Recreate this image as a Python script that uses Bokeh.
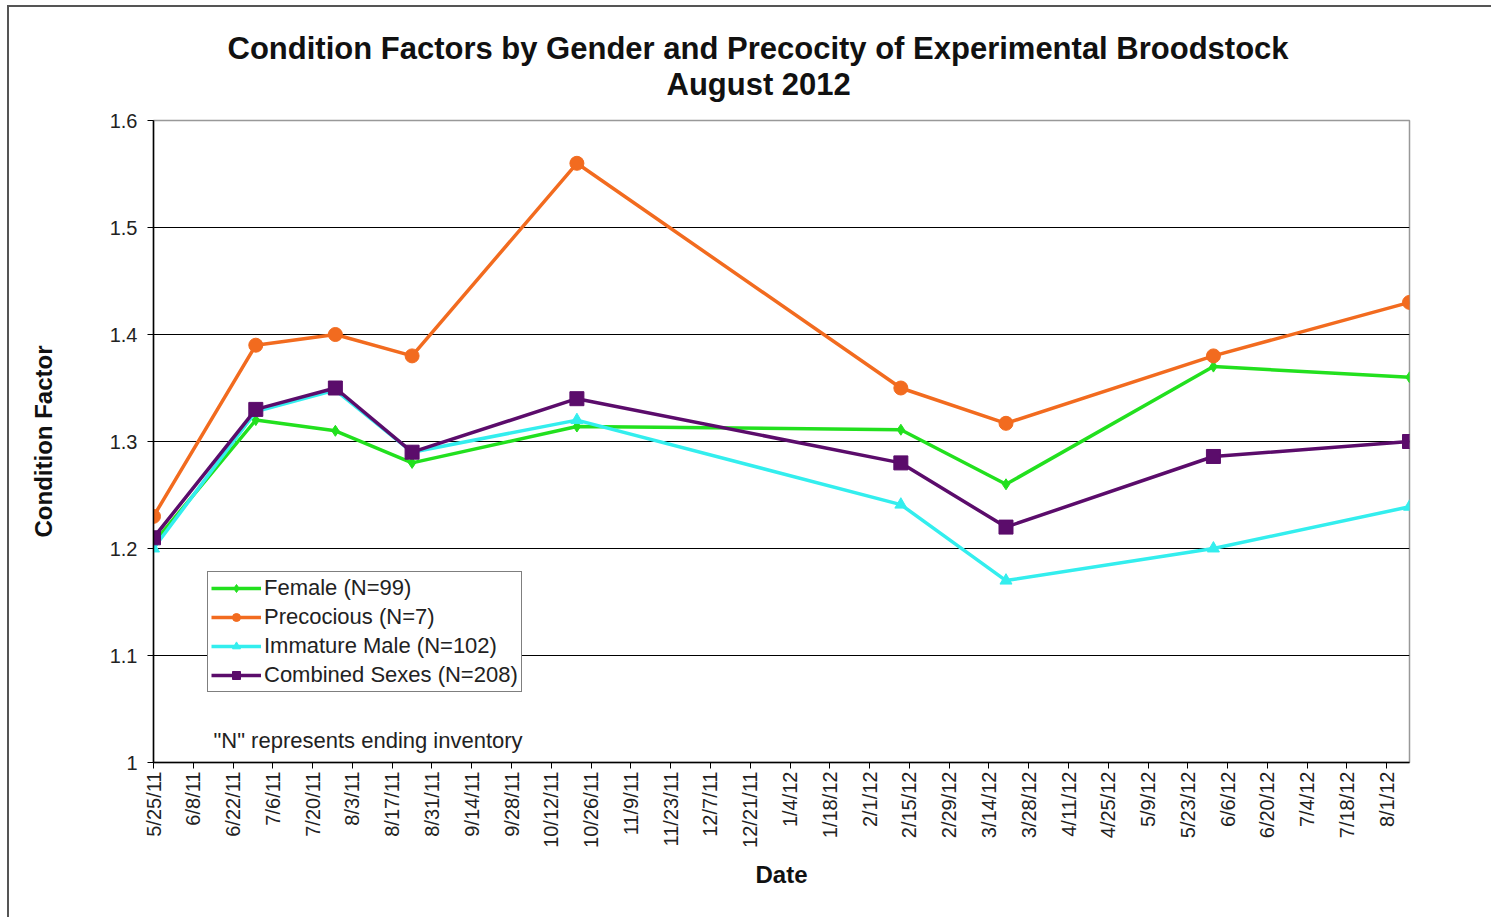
import pandas as pd
from bokeh.plotting import figure
from bokeh.models import (FixedTicker, CustomJSTickFormatter, NumeralTickFormatter,
                          Legend, LegendItem, Label, Range1d, Title)
from bokeh.embed import file_html
from bokeh.resources import INLINE

# ---- data ----
dates = ["2011-05-25", "2011-06-30", "2011-07-28", "2011-08-24", "2011-10-21",
         "2012-02-12", "2012-03-20", "2012-06-01", "2012-08-09"]
female = [1.205, 1.32, 1.31, 1.28, 1.314, 1.311, 1.26, 1.37, 1.36]
precocious = [1.23, 1.39, 1.40, 1.38, 1.56, 1.35, 1.317, 1.38, 1.43]
immature_male = [1.20, 1.328, 1.348, 1.29, 1.32, 1.241, 1.17, 1.20, 1.239]
combined = [1.21, 1.33, 1.35, 1.29, 1.34, 1.28, 1.22, 1.286, 1.30]

series_names = ["Female (N=99)", "Precocious (N=7)", "Immature Male (N=102)", "Combined Sexes (N=208)"]
y_ticks = [1.0, 1.1, 1.2, 1.3, 1.4, 1.5, 1.6]
tick_start = "2011-05-25"
tick_count = 32
tick_step_days = 14

title_line1 = "Condition Factors by Gender and Precocity of Experimental Broodstock"
title_line2 = "August 2012"
note_text = '"N" represents ending inventory'

x = pd.to_datetime(dates)
tick_dates = pd.date_range(tick_start, periods=tick_count, freq=f"{tick_step_days}D")
tick_ms = [int(t.value // 10**6) for t in tick_dates]
x0_ms = int(x[0].value // 10**6)

FONT = "Liberation Sans"
OX, OY = 9, 7          # canvas origin on the page (margin + border)
W, H = 1484, 912
p = figure(width=W, height=H, x_axis_type="datetime", output_backend="svg",
           toolbar_location=None, tools="", title=None,
           x_range=Range1d(x[0], x[-1]), y_range=Range1d(1.0, 1.6),
           min_border_left=153 - OX, min_border_right=OX + W - 1409,
           min_border_top=120 - OY, min_border_bottom=OY + H - 762)

p.styles = {"margin-left": "7px", "margin-top": "5px",
            "border-left": "2px solid #555555", "border-top": "2px solid #555555"}

t2 = Title(text=title_line2, align="left", offset=666 - 153, text_font=FONT,
           text_font_size="31px", text_font_style="bold", text_color="#111111",
           standoff=37)
t1 = Title(text=title_line1, align="left", offset=227 - 153, text_font=FONT,
           text_font_size="31px", text_font_style="bold", text_color="#111111",
           standoff=-39)
p.add_layout(t2, "above")
p.add_layout(t1, "above")

p.outline_line_color = "#999999"
p.outline_line_width = 1.5
p.background_fill_color = "white"
p.border_fill_color = "white"

p.xgrid.visible = False
p.ygrid.ticker = FixedTicker(ticks=y_ticks[1:-1])
p.ygrid.grid_line_color = "black"
p.ygrid.grid_line_width = 1.2

# x axis
xa = p.xaxis[0]
xa.ticker = FixedTicker(ticks=tick_ms)
xa.formatter = CustomJSTickFormatter(code="""
const d = new Date(tick);
return (d.getUTCMonth()+1) + "/" + d.getUTCDate() + "/" + String(d.getUTCFullYear()).slice(2);
""")
xa.major_label_orientation = 3.14159265 / 2
xa.major_label_text_font = FONT
xa.major_label_text_font_size = "20px"
xa.major_label_text_color = "#222222"
xa.major_label_standoff = 3
xa.major_tick_in = 0
xa.major_tick_out = 6
xa.minor_tick_in = 0
xa.minor_tick_out = 0
xa.axis_line_color = "black"
xa.axis_line_width = 1.5
xa.major_tick_line_color = "black"
xa.axis_label = "Date"
xa.axis_label_text_font = FONT
xa.axis_label_text_font_size = "24px"
xa.axis_label_text_font_style = "bold"
xa.axis_label_text_color = "#111111"
xa.axis_label_standoff = 10

# y axis
ya = p.yaxis[0]
ya.ticker = FixedTicker(ticks=y_ticks)
ya.formatter = NumeralTickFormatter(format="0.[0]")
ya.major_label_text_font = FONT
ya.major_label_text_font_size = "20px"
ya.major_label_text_color = "#222222"
ya.major_label_standoff = 10
ya.major_tick_in = 0
ya.major_tick_out = 6
ya.minor_tick_in = 0
ya.minor_tick_out = 0
ya.axis_line_color = "black"
ya.axis_line_width = 1.5
ya.axis_label = "Condition Factor"
ya.axis_label_text_font = FONT
ya.axis_label_text_font_size = "24px"
ya.axis_label_text_font_style = "bold"
ya.axis_label_text_color = "#111111"
ya.axis_label_standoff = 50

colors = ["#22e01e", "#f26b1f", "#33eeee", "#5b0c6b"]
markers = ["diamond", "circle", "triangle", "square"]
sizes = [11, 14, 12, 14]
data = [female, precocious, immature_male, combined]

items = []
for name, ys, c, m, s in zip(series_names, data, colors, markers, sizes):
    lr = p.line(x, ys, line_color=c, line_width=3.5)
    sr = p.scatter(x, ys, marker=m, size=s, fill_color=c, line_color=c)
    items.append(LegendItem(label=name, renderers=[lr, sr]))

legend = Legend(items=items, location=(54, 70))
legend.label_text_font = FONT
legend.label_text_font_size = "22px"
legend.label_text_color = "#222222"
legend.glyph_width = 50
legend.glyph_height = 20
legend.label_height = 20
legend.label_standoff = 3
legend.spacing = 3
legend.padding = 3
legend.margin = 0
legend.border_line_color = "black"
legend.border_line_width = 1.5
legend.background_fill_color = "white"
legend.background_fill_alpha = 1.0
p.add_layout(legend, "center")

note = Label(x=x0_ms, y=1.0, x_offset=60, y_offset=22, text=note_text,
             text_font=FONT, text_font_size="22px", text_color="#222222",
             text_baseline="middle")
p.add_layout(note)

open("out.html", "w").write(file_html(p, INLINE))
